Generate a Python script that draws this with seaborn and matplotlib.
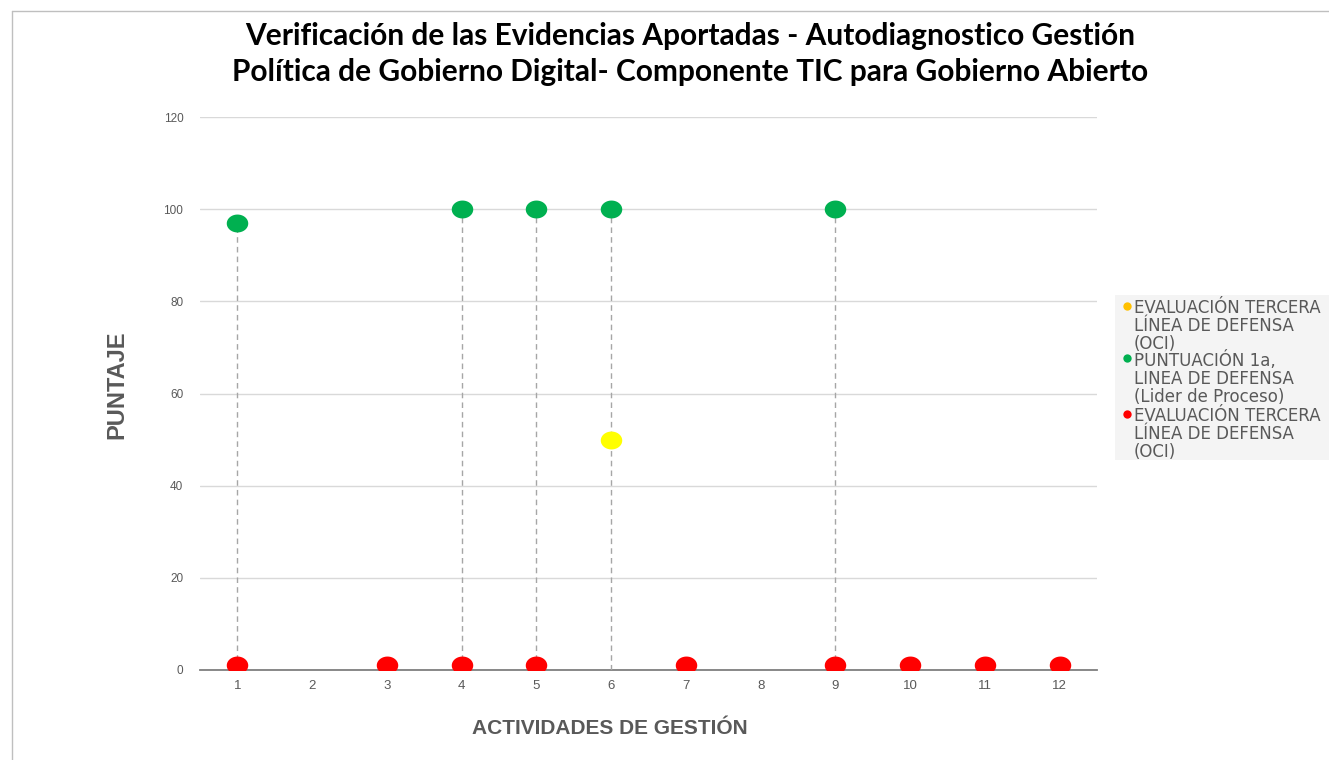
import numpy as np
import pandas as pd
import matplotlib
matplotlib.use("Agg")
import matplotlib.pyplot as plt
import seaborn as sns
from matplotlib.lines import Line2D
from matplotlib.patches import Rectangle

# datos
actividades = list(range(1, 13))
puntuacion_1a = [97, np.nan, np.nan, 100, 100, 100, np.nan, np.nan, 100, np.nan, np.nan, np.nan]
evaluacion_oci = [1, np.nan, 1, 1, 1, np.nan, 1, np.nan, 1, 1, 1, 1]
evaluacion_oci_punto = [np.nan, np.nan, np.nan, np.nan, np.nan, 50, np.nan, np.nan, np.nan, np.nan, np.nan, np.nan]
y_ticks = [0, 20, 40, 60, 80, 100, 120]

titulo = ("Verificación de las Evidencias Aportadas - Autodiagnostico Gestión\n"
          "Política de Gobierno Digital- Componente TIC para Gobierno Abierto")
leyenda_nombres = [
    "EVALUACIÓN TERCERA\nLÍNEA DE DEFENSA\n(OCI)",
    "PUNTUACIÓN 1a,\nLINEA DE DEFENSA\n(Lider de Proceso)",
    "EVALUACIÓN TERCERA\nLÍNEA DE DEFENSA\n(OCI)",
]
leyenda_colores = ["#FFC000", "#00B050", "#FF0000"]

W, H = 1329, 760

df = pd.DataFrame({
    "actividad": actividades,
    "puntuacion": puntuacion_1a,
    "oci": evaluacion_oci,
    "oci_punto": evaluacion_oci_punto,
})
df["tope"] = df[["puntuacion", "oci", "oci_punto"]].max(axis=1)

sns.set_theme(style="white")
plt.rcParams["font.family"] = ["Liberation Sans", "DejaVu Sans"]

fig = plt.figure(figsize=(W / 100, H / 100), dpi=100)
ax = fig.add_axes([200 / W, 1 - 670 / H, 897 / W, 553 / H])

# marcador eliptico como en Excel
t = np.linspace(0, 2 * np.pi, 40)
elipse = list(zip(1.2 * np.cos(t), np.sin(t)))

# lineas de proyeccion
lineas = df.dropna(subset=["puntuacion"])
ax.vlines(lineas["actividad"], 0, lineas["tope"], colors="#a6a6a6",
          linestyles=(0, (4, 3)), linewidth=1, zorder=2)

sns.scatterplot(data=df, x="actividad", y="puntuacion", color="#00B050",
                marker=elipse, s=240, linewidth=0, ax=ax, zorder=3)
sns.scatterplot(data=df, x="actividad", y="oci_punto", color="#FFFF00",
                marker=elipse, s=240, linewidth=0, ax=ax, zorder=3)
sns.scatterplot(data=df, x="actividad", y="oci", color="#FF0000",
                marker=elipse, s=240, linewidth=0, ax=ax, zorder=3)

ax.set_xlim(0.5, 12.5)
ax.set_ylim(0, 120)
ax.set_xticks(actividades)
ax.set_yticks(y_ticks)
ax.yaxis.grid(True, color="#d9d9d9", linewidth=1)
ax.set_axisbelow(True)
for s in ["top", "right", "left"]:
    ax.spines[s].set_visible(False)
ax.spines["bottom"].set_color("#7f7f7f")
ax.spines["bottom"].set_linewidth(1.3)
ax.spines["bottom"].set_zorder(1)
ax.tick_params(axis="both", length=0, colors="#595959")
ax.tick_params(axis="x", labelsize=9.5, pad=7)
ax.tick_params(axis="y", labelsize=8.5, pad=12)
ax.set_xlabel("ACTIVIDADES DE GESTIÓN", fontsize=15, fontweight="bold", color="#595959")
ax.xaxis.set_label_coords((610 - 200) / 897, -(728 - 670) / 553)
ax.xaxis.label.set_verticalalignment("center")
ax.set_ylabel("PUNTAJE", fontsize=17, fontweight="bold", color="#595959")
ax.yaxis.set_label_coords(-(200 - 117) / 897, (670 - 385) / 553)
ax.yaxis.label.set_verticalalignment("center")

fig.text(690 / W, 1 - 54 / H, titulo, ha="center", va="center", fontsize=21.5,
         fontweight="bold", family=["Lato", "DejaVu Sans"], linespacing=1.32, color="black")

# leyenda a la derecha
fig.add_artist(Rectangle((1115 / W, 1 - 460 / H), (W - 1115) / W, 165 / H,
                         transform=fig.transFigure, facecolor="#f4f4f4", edgecolor="none"))
for nombre, color, ytop in zip(leyenda_nombres, leyenda_colores, [299, 351, 407]):
    fig.add_artist(Line2D([1127 / W], [1 - (ytop + 7) / H], marker="o", markersize=6,
                          markerfacecolor=color, markeredgewidth=0, linestyle=""))
    fig.text(1134 / W, 1 - ytop / H, nombre, ha="left", va="top", fontsize=12,
             family="DejaVu Sans", color="#595959", linespacing=1.0)

# borde del area del grafico
fig.add_artist(Line2D([12 / W, 1], [1 - 11 / H, 1 - 11 / H], color="#bfbfbf", linewidth=1))
fig.add_artist(Line2D([12 / W, 12 / W], [0, 1 - 11 / H], color="#bfbfbf", linewidth=1))

fig.savefig("out.png", dpi=100)
